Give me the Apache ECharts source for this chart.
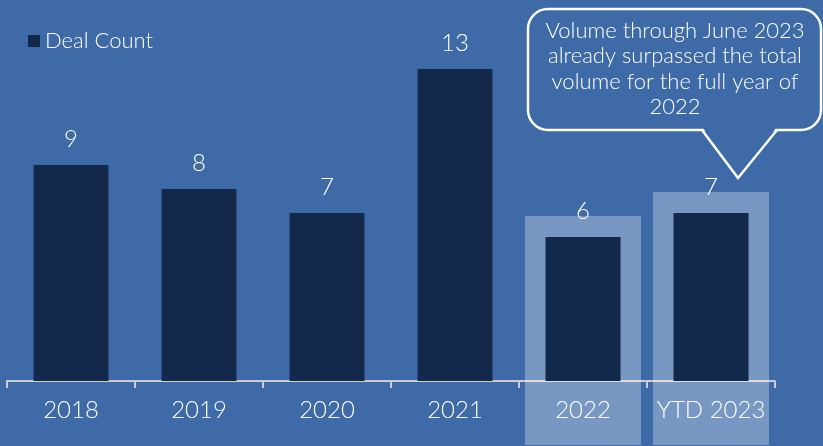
<!DOCTYPE html>
<html>
<head>
<meta charset="utf-8">
<script src="https://cdn.jsdelivr.net/npm/echarts@6/dist/echarts.min.js"></script>
<style>
html,body{margin:0;padding:0;background:#3E6AA7;}
#chart{width:823px;height:446px;}
</style>
</head>
<body>
<div id="chart"></div>
<script>
const categories = ['2018', '2019', '2020', '2021', '2022', 'YTD 2023'];
const dealCount = [9, 8, 7, 13, 6, 7];
const highlighted = [[4, 6], [5, 7]];
const calloutText = 'Volume through June 2023\nalready surpassed the total\nvolume for the full year of\n2022';

const FONT = 'Lato, "Open Sans", sans-serif';
const W = 300;
const BG = '#3E6AA8';
const chart = echarts.init(document.getElementById('chart'));

chart.setOption({
  backgroundColor: BG,
  animation: false,
  legend: {
    left: 23, top: 25,
    icon: 'rect', itemWidth: 12, itemHeight: 12, itemGap: 5,
    textStyle: {color: '#FFFFFF', fontSize: 22, fontFamily: FONT, fontWeight: W},
    data: ['Deal Count']
  },
  grid: {left: 7, right: 48, top: 21, bottom: 65},
  xAxis: {
    type: 'category',
    data: categories,
    axisLine: {lineStyle: {color: '#C9CDD3', width: 2}},
    axisTick: {show: true, interval: 0, length: 7, lineStyle: {color: '#C9CDD3', width: 2}},
    axisLabel: {color: '#FFFFFF', fontSize: 24, fontFamily: FONT, fontWeight: W, margin: 17, interval: 0}
  },
  yAxis: {type: 'value', min: 0, max: 15, show: false, splitLine: {show: false}},
  series: [
    {
      type: 'custom',
      z: 1,
      data: highlighted,
      renderItem: function (params, api) {
        const p = api.coord([api.value(0), api.value(1)]);
        const w = 116;
        const top = p[1] - 21;
        return {
          type: 'rect',
          shape: {x: p[0] - w / 2, y: top, width: w, height: 445 - top},
          style: {fill: 'rgba(255,255,255,0.3)'}
        };
      },
      silent: true
    },
    {
      name: 'Deal Count',
      type: 'bar',
      z: 2,
      data: dealCount,
      barWidth: 75,
      itemStyle: {color: '#12294B'},
      label: {
        show: true, position: 'top', distance: 14,
        color: '#FFFFFF', fontSize: 24, fontFamily: FONT, fontWeight: W
      }
    }
  ],
  graphic: [
    {
      type: 'rect',
      z: 10,
      shape: {x: 528, y: 9, width: 293, height: 121, r: 20},
      style: {fill: BG, stroke: '#FFFFFF', lineWidth: 2.5}
    },
    {
      type: 'polygon',
      z: 11,
      shape: {points: [[703, 128], [738, 175], [776, 128]]},
      style: {fill: BG}
    },
    {
      type: 'polyline',
      z: 12,
      shape: {points: [[702, 130], [738, 178], [777, 130]]},
      style: {stroke: '#FFFFFF', lineWidth: 2.5, fill: null}
    },
    {
      type: 'text',
      z: 13,
      x: 675, y: 69,
      style: {
        text: calloutText,
        fill: '#FFFFFF', font: W + ' 22px ' + FONT,
        align: 'center', verticalAlign: 'middle', lineHeight: 25.5
      }
    }
  ]
});
</script>
</body>
</html>
